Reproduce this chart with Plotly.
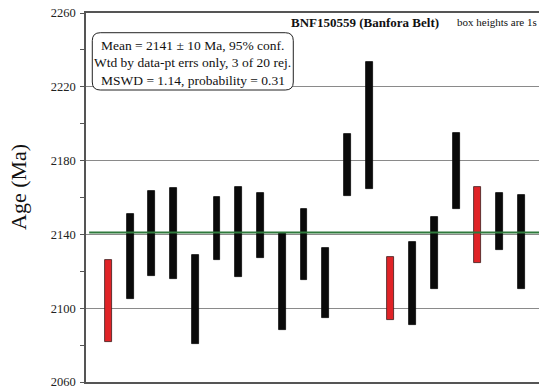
import plotly.graph_objects as go

# Spot ages (Ma) with 1-sigma uncertainties; flagged spots were rejected from the mean
spot = list(range(1, 21))
age = [2104.0, 2128.0, 2140.4, 2140.5, 2104.5, 2143.3, 2141.4, 2144.9, 2114.7, 2134.6,
       2113.7, 2177.4, 2199.0, 2110.7, 2113.2, 2130.0, 2174.5, 2145.2, 2146.9, 2135.8]
err = [22.2, 23.0, 23.1, 24.7, 24.1, 17.2, 24.5, 17.7, 26.3, 19.3,
       19.2, 16.8, 34.2, 16.9, 22.5, 19.6, 20.7, 20.5, 15.5, 25.4]
rejected = [1, 14, 18]

mean_age = 2141
y_ticks = [2060, 2100, 2140, 2180, 2220, 2260]

SERIF = '"Liberation Serif", "Times New Roman", Times, serif'

base = [a - e for a, e in zip(age, err)]
height = [2 * e for e in err]
fill = ["#e02327" if s in rejected else "#0a0a0a" for s in spot]
edge = ["#3a1a1a" if s in rejected else "#0a0a0a" for s in spot]

fig = go.Figure()
fig.add_trace(go.Bar(
    x=spot, y=height, base=base, width=0.32,
    marker=dict(color=fill, line=dict(color=edge, width=0.8)),
    hoverinfo="skip", showlegend=False,
))

# weighted mean line
fig.add_shape(type="line", xref="x", yref="y", x0=0.12, x1=20.9,
              y0=mean_age, y1=mean_age, line=dict(color="#2f7a3c", width=2), layer="above")

# rounded statistics box
bx0, bx1, by0, by1 = 0.0139, 0.4576, 0.7913, 0.9466
rx, ry = 8 / 453, 8 / 369
path = (f"M {bx0+rx},{by1} L {bx1-rx},{by1} Q {bx1},{by1} {bx1},{by1-ry} "
        f"L {bx1},{by0+ry} Q {bx1},{by0} {bx1-rx},{by0} "
        f"L {bx0+rx},{by0} Q {bx0},{by0} {bx0},{by0+ry} "
        f"L {bx0},{by1-ry} Q {bx0},{by1} {bx0+rx},{by1} Z")
fig.add_shape(type="path", xref="paper", yref="paper", path=path,
              line=dict(color="#222", width=1), fillcolor="white", layer="above")

stats_lines = [
    f"Mean = {mean_age} ± 10 Ma, 95% conf.",
    "Wtd by data-pt errs only, 3 of 20 rej.",
    "MSWD = 1.14, probability = 0.31",
]
cx = (192.8 - 86) / 453
for i, line in enumerate(stats_lines):
    py = [45, 62.5, 80][i]
    fig.add_annotation(text=line, xref="paper", yref="paper", x=cx, y=(382 - py) / 369,
                       showarrow=False, xanchor="center", yanchor="middle",
                       font=dict(family=SERIF, size=13.5, color="#111"))

fig.add_annotation(text="<b>BNF150559 (Banfora Belt)</b>", xref="paper", yref="paper",
                   x=(289 - 86) / 453, y=(382 - 22) / 369, xanchor="left", yanchor="middle",
                   showarrow=False, font=dict(family=SERIF, size=13, color="#111"))
fig.add_annotation(text="box heights are 1s", xref="paper", yref="paper",
                   x=(455 - 86) / 453, y=(382 - 22) / 369, xanchor="left", yanchor="middle",
                   showarrow=False, font=dict(family=SERIF, size=11, color="#111"))

fig.add_annotation(text="Age (Ma)", xref="paper", yref="paper",
                   x=(18 - 86) / 453, y=(382 - 187) / 369, textangle=-90,
                   xanchor="center", yanchor="middle", showarrow=False,
                   font=dict(family=SERIF, size=22, color="#111"))

fig.update_layout(
    width=539, height=390,
    margin=dict(l=86, r=0, t=13, b=8),
    paper_bgcolor="white", plot_bgcolor="white",
    bargap=0,
    font=dict(family=SERIF),
    xaxis=dict(range=[-0.026, 20.81], showticklabels=False, ticks="",
               showgrid=False, zeroline=False, showline=True, mirror=True,
               linecolor="#555", linewidth=1.5),
    yaxis=dict(range=[2060, 2260], tickvals=y_ticks, ticktext=[str(v) for v in y_ticks],
               ticks="outside", ticklen=4, tickcolor="#555", tickwidth=1,
               minor=dict(dtick=20, tick0=2060, ticks="outside", ticklen=4,
                          tickcolor="#555", showgrid=False),
               showgrid=True, gridcolor="#8a8a8a", gridwidth=1,
               zeroline=False, showline=True, linecolor="#555", linewidth=1.5,
               tickfont=dict(family=SERIF, size=12.5, color="#222"),
               ticklabelstandoff=2),
)

fig.write_html("out.html")
